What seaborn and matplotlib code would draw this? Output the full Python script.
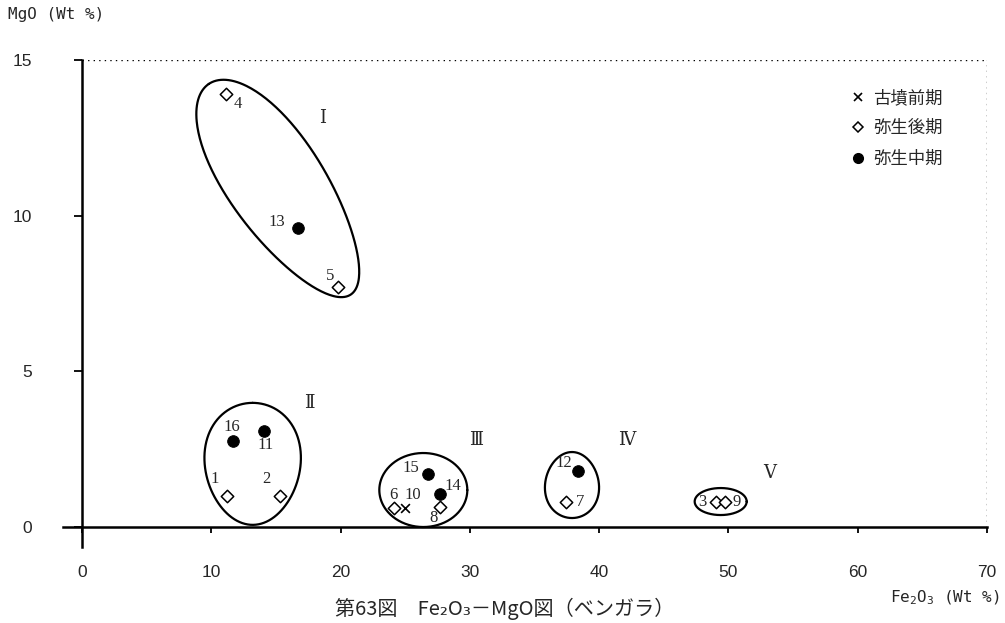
import matplotlib
matplotlib.use('Agg')
import matplotlib.pyplot as plt
from matplotlib.lines import Line2D
import seaborn as sns
import numpy as np
import pandas as pd

# ---- データ ----
sample_no = [4, 5, 13, 16, 11, 1, 2, 6, 10, 15, 14, 8, 12, 7, 3, 9]
fe2o3 = [11.1, 19.8, 16.7, 11.7, 14.1, 11.2, 15.3, 24.1, 25.0, 26.8, 27.7, 27.7, 38.4, 37.4, 49.0, 49.7]
mgo = [13.9, 7.7, 9.6, 2.75, 3.1, 1.0, 1.0, 0.6, 0.6, 1.7, 1.05, 0.65, 1.8, 0.8, 0.8, 0.8]
period = ['弥生後期', '弥生後期', '弥生中期', '弥生中期', '弥生中期', '弥生後期', '弥生後期',
          '弥生後期', '古墳前期', '弥生中期', '弥生中期', '弥生後期', '弥生中期', '弥生後期',
          '弥生後期', '弥生後期']

group_names = ['Ⅰ', 'Ⅱ', 'Ⅲ', 'Ⅳ', 'Ⅴ']
group_label_pos = [(18.6, 13.15), (17.6, 4.0), (30.5, 2.8), (42.1, 2.8), (53.2, 1.75)]
# 囲み線: 中心(データ), 長半径/短半径(px), 角度, 卵形係数
group_outline = [
    ((15.3, 10.85), 127, 48, 124, 0.12),
    ((13.2, 2.03), 61, 48, 90, 0.10),
    ((26.4, 1.19), 44, 37, 0, 0.0),
    ((37.9, 1.35), 33, 27, 90, -0.08),
    ((49.4, 0.82), 26, 13.5, 0, 0.0),
]

# 番号ラベルのずらし量（px）
label_offset = {4: (12, -10), 5: (-8, 11), 13: (-21, 6), 16: (-1, 14), 11: (1, -14),
                1: (-12, 17), 2: (-13, 17), 6: (0, 13), 10: (8, 13), 15: (-18, 6),
                14: (13, 8), 8: (-7, -11), 12: (-15, 8), 7: (15, 0), 3: (-13, 0), 9: (12, 0)}

df = pd.DataFrame({'No': sample_no, 'Fe2O3': fe2o3, 'MgO': mgo, '時期': period})

sns.set_theme(style='white')
plt.rcParams['font.family'] = ['Noto Sans CJK JP', 'DejaVu Sans']
plt.rcParams['mathtext.fontset'] = 'custom'
plt.rcParams['mathtext.rm'] = 'DejaVu Sans Mono'

W, H = 1005, 623
fig = plt.figure(figsize=(W / 100, H / 100), dpi=100)
ax = fig.add_axes([63 / W, (H - 547) / H, 924 / W, 487 / H])
ax.set_facecolor('white')

# 各時期ごとに描画
sub = df[df['時期'] == '古墳前期']
sns.scatterplot(data=sub, x='Fe2O3', y='MgO', marker='x', s=40, color='black',
                linewidth=1.2, ax=ax, label='古墳前期')
sub = df[df['時期'] == '弥生後期']
sns.scatterplot(data=sub, x='Fe2O3', y='MgO', marker='D', s=40, facecolor='white',
                edgecolor='black', linewidth=1.1, ax=ax, label='弥生後期', zorder=3)
sub = df[df['時期'] == '弥生中期']
sns.scatterplot(data=sub, x='Fe2O3', y='MgO', marker='o', s=70, color='black',
                edgecolor='black', ax=ax, label='弥生中期', zorder=3)

ax.set_xlim(-1.47, 70)
ax.set_ylim(-0.64, 15)

# 番号
for _, r in df.iterrows():
    dx, dy = label_offset[r['No']]
    ax.annotate(str(r['No']), (r['Fe2O3'], r['MgO']), xytext=(dx * 0.72, dy * 0.72),
                textcoords='offset points', ha='center', va='center',
                fontsize=12, family=['Liberation Serif', 'DejaVu Serif'])

# 囲み線
p0 = ax.transData.transform([0, 0])
p1 = ax.transData.transform([1, 1])
sx, sy = p1[0] - p0[0], p1[1] - p0[1]
t = np.linspace(0, 2 * np.pi, 300)
for (cx, cy), a, b, ang, k in group_outline:
    u = a * np.cos(t)
    v = b * np.sin(t) * (1 + k * np.cos(t))
    th = np.deg2rad(ang)
    X = u * np.cos(th) - v * np.sin(th)
    Y = u * np.sin(th) + v * np.cos(th)
    ax.plot(cx + X / sx, cy + Y / sy, color='black', linewidth=1.6, zorder=2)

for name, (gx, gy) in zip(group_names, group_label_pos):
    ax.text(gx, gy, name, ha='center', va='center', fontsize=13,
            family=['DejaVu Serif', 'Noto Sans CJK JP'])

# 軸
for s in ['top', 'right']:
    ax.spines[s].set_visible(False)
ax.spines['left'].set_position(('data', 0))
ax.spines['bottom'].set_position(('data', 0))
for s in ['left', 'bottom']:
    ax.spines[s].set_linewidth(1.8)
    ax.spines[s].set_color('black')
ax.hlines(15, 0, 70, colors='black', linestyles=(0, (1, 3)), linewidth=1)
ax.vlines(70, 0, 15, colors='black', linestyles=(0, (1, 3)), linewidth=1)

ax.set_xticks(range(0, 71, 10))
ax.set_yticks([0, 5, 10, 15])
ax.tick_params(axis='x', direction='out', length=4, width=1.3, pad=23, labelsize=12.5,
               bottom=True, color='black')
ax.tick_params(axis='y', direction='out', length=6, width=1.3, pad=30, labelsize=12.5,
               left=True, color='black')
for lab in ax.get_xticklabels() + ax.get_yticklabels():
    lab.set_family(['Liberation Sans', 'DejaVu Sans'])
ax.set_xlabel('')
ax.set_ylabel('')

handles = [
    Line2D([], [], marker='x', linestyle='', color='black', markersize=6, markeredgewidth=1.2),
    Line2D([], [], marker='D', linestyle='', markerfacecolor='white', markeredgecolor='black',
           markersize=5.5, markeredgewidth=1.1),
    Line2D([], [], marker='o', linestyle='', color='black', markersize=7),
]
ax.legend(handles, ['古墳前期', '弥生後期', '弥生中期'], loc='upper left',
          bbox_to_anchor=(849 / W, 1 - 89 / H), bbox_transform=fig.transFigure,
          frameon=False, fontsize=12.5, handlelength=1.0, handletextpad=0.4,
          borderpad=0, borderaxespad=0, labelspacing=0.71)

fig.text(8 / W, 1 - 15 / H, 'MgO (Wt %)', ha='left', va='center', fontsize=11.5,
         family='DejaVu Sans Mono')
fig.text(1000 / W, 1 - 598 / H, r'Fe$_2$O$_3$ (Wt %)', ha='right', va='center',
         fontsize=11.5, family='DejaVu Sans Mono')
fig.text(505 / W, 1 - 609 / H, '第63図　Fe₂O₃－MgO図（ベンガラ）', ha='center', va='center',
         fontsize=14.5, family=['Noto Sans CJK JP', 'DejaVu Sans'])

fig.savefig('out.png', dpi=100, facecolor='white')
